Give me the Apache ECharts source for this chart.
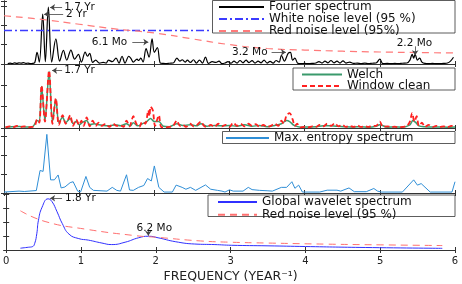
<!DOCTYPE html>
<html><head><meta charset="utf-8">
<script src="https://cdn.jsdelivr.net/npm/echarts@6/dist/echarts.min.js"></script>
<style>html,body{margin:0;padding:0;background:#fff}#c{width:462px;height:284px}</style>
</head><body><div id="c"></div>
<script>
const freqTicks = [0,1,2,3,4,5,6];
const panelMax = [3.25, 3, 3.46, 4.1];

const fourier = [[0.05,0.02],[0.08,0.05],[0.11,0.02],[0.14,0.06],[0.17,0.03],[0.2,0.06],[0.23,0.04],[0.26,0.07],[0.29,0.03],[0.32,0.05],[0.35,0.02],[0.38,0.03],[0.41,0.08],[0.44,0.6],[0.47,0.1],[0.515,2.57],[0.55,0.12],[0.59,2.94],[0.635,0.1],[0.69,1.3],[0.74,0.15],[0.79,0.7],[0.835,0.2],[0.89,0.72],[0.94,0.25],[0.99,0.5],[1.03,0.1],[1.08,0.62],[1.11,0.4],[1.14,0.55],[1.18,0.08],[1.22,0.2],[1.27,0.05],[1.32,0.08],[1.36,0.05],[1.39,0.2],[1.44,0.12],[1.49,0.3],[1.53,0.05],[1.57,0.4],[1.61,0.05],[1.66,0.4],[1.69,0.28],[1.72,0.1],[1.77,0.25],[1.79,0.18],[1.82,0.3],[1.85,0.1],[1.89,0.8],[1.93,0.35],[1.97,1.3],[2.0,0.6],[2.04,0.85],[2.08,0.05],[2.12,0.03],[2.16,0.02],[2.2,0.04],[2.25,0.05],[2.3,0.3],[2.34,0.15],[2.37,0.22],[2.41,0.1],[2.44,0.2],[2.48,0.08],[2.52,0.22],[2.56,0.05],[2.6,0.2],[2.64,0.05],[2.68,0.35],[2.72,0.03],[2.77,0.12],[2.82,0.08],[2.86,0.15],[2.9,0.02],[2.94,0.05],[2.98,0.12],[3.02,0.04],[3.06,0.15],[3.1,0.05],[3.14,0.18],[3.18,0.06],[3.22,0.2],[3.26,0.07],[3.3,0.17],[3.34,0.05],[3.38,0.15],[3.42,0.06],[3.46,0.2],[3.5,0.05],[3.54,0.14],[3.58,0.04],[3.62,0.18],[3.66,0.1],[3.69,0.45],[3.73,0.15],[3.78,0.55],[3.81,0.6],[3.84,0.2],[3.87,0.3],[3.91,0.03],[3.95,0.02],[4.0,0.03],[4.05,0.02],[4.1,0.03],[4.15,0.05],[4.19,0.12],[4.23,0.05],[4.27,0.15],[4.31,0.06],[4.35,0.18],[4.39,0.06],[4.43,0.15],[4.47,0.05],[4.51,0.16],[4.55,0.05],[4.6,0.1],[4.65,0.03],[4.7,0.05],[4.75,0.02],[4.8,0.04],[4.85,0.02],[4.9,0.04],[4.95,0.05],[5.0,0.25],[5.04,0.02],[5.1,0.03],[5.15,0.02],[5.2,0.03],[5.25,0.02],[5.3,0.04],[5.36,0.05],[5.4,0.2],[5.43,0.5],[5.45,0.3],[5.47,0.5],[5.5,0.2],[5.53,0.3],[5.56,0.1],[5.6,0.03],[5.65,0.02],[5.7,0.03],[5.75,0.02],[5.8,0.02],[5.85,0.03],[5.9,0.05],[5.94,0.15],[5.98,0.35]];
const whiteNoise = [[0,1.73],[6,1.73]];
const redNoise1 = [[0,2.49],[0.5,2.3],[1,2.05],[1.5,1.8],[2,1.6],[2.5,1.3],[3,1.0],[3.5,0.8],[4,0.72],[4.5,0.66],[5,0.62],[5.5,0.59],[6,0.57]];

const welch = [[0.02,0.04],[0.1,0.06],[0.2,0.07],[0.3,0.05],[0.38,0.06],[0.44,0.35],[0.47,0.3],[0.5,1.95],[0.545,0.35],[0.6,2.65],[0.645,0.3],[0.69,1.35],[0.73,0.25],[0.78,0.5],[0.82,0.25],[0.88,0.45],[0.92,0.2],[0.96,0.3],[1.0,0.15],[1.04,0.25],[1.1,0.35],[1.14,0.15],[1.2,0.2],[1.26,0.15],[1.32,0.12],[1.4,0.1],[1.48,0.15],[1.55,0.1],[1.63,0.2],[1.68,0.1],[1.72,0.25],[1.78,0.1],[1.84,0.2],[1.9,0.3],[1.95,0.45],[2.0,0.3],[2.06,0.3],[2.12,0.08],[2.2,0.06],[2.3,0.2],[2.38,0.12],[2.48,0.15],[2.56,0.1],[2.62,0.2],[2.7,0.08],[2.8,0.12],[2.9,0.1],[3.0,0.12],[3.1,0.08],[3.2,0.15],[3.3,0.08],[3.4,0.12],[3.5,0.06],[3.6,0.12],[3.69,0.2],[3.76,0.35],[3.8,0.3],[3.86,0.12],[3.95,0.04],[4.05,0.05],[4.15,0.06],[4.25,0.1],[4.35,0.1],[4.45,0.08],[4.55,0.06],[4.65,0.05],[4.75,0.06],[4.85,0.04],[4.95,0.08],[5.0,0.15],[5.1,0.04],[5.2,0.05],[5.3,0.04],[5.4,0.15],[5.44,0.35],[5.48,0.25],[5.52,0.1],[5.6,0.06],[5.7,0.05],[5.8,0.05],[5.9,0.04],[6.0,0.05]];
const windowClean = [[0.02,0.03],[0.08,0.08],[0.12,0.03],[0.17,0.1],[0.22,0.04],[0.27,0.08],[0.32,0.03],[0.37,0.05],[0.41,0.1],[0.44,0.4],[0.47,0.25],[0.5,2.0],[0.545,0.3],[0.6,2.69],[0.645,0.2],[0.69,1.39],[0.73,0.15],[0.78,0.6],[0.82,0.2],[0.86,0.45],[0.88,0.6],[0.92,0.1],[0.96,0.4],[1.0,0.15],[1.03,0.35],[1.06,0.1],[1.1,0.5],[1.14,0.08],[1.18,0.35],[1.22,0.1],[1.26,0.25],[1.3,0.1],[1.35,0.2],[1.4,0.05],[1.45,0.2],[1.5,0.1],[1.55,0.12],[1.59,0.05],[1.63,0.35],[1.67,0.08],[1.72,0.55],[1.76,0.2],[1.8,0.05],[1.84,0.3],[1.88,0.2],[1.92,0.83],[1.935,0.55],[1.95,1.0],[1.98,0.83],[2.01,0.1],[2.06,0.6],[2.09,0.05],[2.14,0.03],[2.2,0.05],[2.25,0.1],[2.3,0.35],[2.34,0.1],[2.38,0.15],[2.42,0.05],[2.48,0.2],[2.52,0.08],[2.56,0.12],[2.62,0.3],[2.66,0.1],[2.7,0.05],[2.75,0.15],[2.8,0.05],[2.85,0.2],[2.9,0.08],[2.95,0.15],[3.0,0.05],[3.05,0.25],[3.1,0.1],[3.15,0.2],[3.2,0.08],[3.25,0.2],[3.3,0.1],[3.35,0.18],[3.4,0.05],[3.45,0.15],[3.5,0.05],[3.55,0.1],[3.6,0.2],[3.65,0.1],[3.69,0.35],[3.72,0.2],[3.76,0.6],[3.8,0.7],[3.84,0.4],[3.87,0.1],[3.9,0.2],[3.94,0.03],[4.0,0.05],[4.05,0.03],[4.1,0.08],[4.15,0.05],[4.2,0.15],[4.25,0.08],[4.3,0.2],[4.35,0.1],[4.4,0.22],[4.45,0.08],[4.5,0.15],[4.55,0.05],[4.6,0.1],[4.65,0.05],[4.7,0.12],[4.75,0.05],[4.8,0.08],[4.85,0.05],[4.9,0.1],[4.95,0.1],[5.0,0.3],[5.04,0.05],[5.1,0.08],[5.15,0.04],[5.2,0.06],[5.25,0.03],[5.3,0.05],[5.36,0.1],[5.4,0.3],[5.43,0.7],[5.46,0.3],[5.49,0.55],[5.52,0.1],[5.56,0.25],[5.6,0.05],[5.65,0.15],[5.7,0.04],[5.75,0.1],[5.8,0.05],[5.85,0.08],[5.9,0.04],[5.95,0.1],[6.0,0.05]];

const maxEntropy = [[0.0,0.05],[0.2,0.1],[0.27,0.08],[0.43,0.13],[0.48,1.2],[0.52,1.15],[0.57,3.12],[0.62,0.7],[0.67,0.7],[0.72,0.96],[0.76,0.27],[0.81,0.32],[0.88,0.55],[0.92,0.6],[0.98,0.1],[1.02,0.06],[1.09,0.88],[1.14,0.3],[1.19,0.14],[1.37,0.1],[1.44,0.3],[1.5,0.14],[1.55,0.1],[1.63,0.97],[1.67,0.16],[1.72,0.14],[1.79,0.3],[1.86,0.4],[1.91,0.77],[1.96,0.64],[2.0,1.44],[2.06,0.3],[2.13,0.05],[2.24,0.05],[2.29,0.42],[2.37,0.3],[2.42,0.2],[2.48,0.3],[2.55,0.14],[2.68,0.43],[2.75,0.2],[2.84,0.14],[2.9,0.1],[2.94,0.05],[3.0,0.17],[3.05,0.1],[3.18,0.1],[3.25,0.3],[3.3,0.18],[3.4,0.14],[3.5,0.12],[3.57,0.1],[3.69,0.3],[3.76,0.3],[3.83,0.6],[3.87,0.25],[3.92,0.42],[3.97,0.05],[4.2,0.05],[4.3,0.15],[4.43,0.15],[4.48,0.1],[4.59,0.27],[4.66,0.07],[4.82,0.07],[4.92,0.24],[4.97,0.1],[5.02,0.05],[5.3,0.05],[5.45,0.7],[5.5,0.42],[5.55,0.5],[5.67,0.05],[5.96,0.05],[6.0,0.6]];

const wavelet = [[0.19,0.13],[0.3,0.2],[0.35,0.24],[0.38,0.45],[0.41,1.2],[0.43,2.1],[0.48,3.08],[0.56,3.68],[0.61,3.5],[0.68,2.75],[0.75,1.9],[0.84,1.14],[0.97,0.82],[1.1,0.71],[1.28,0.5],[1.41,0.39],[1.59,0.56],[1.77,0.88],[1.9,0.99],[2.03,0.88],[2.26,0.6],[2.52,0.43],[2.79,0.39],[3.01,0.34],[3.5,0.3],[4.0,0.25],[4.8,0.18],[5.83,0.12]];
const redNoise4 = [[0.19,2.82],[0.52,2.05],[1.06,1.5],[1.73,1.03],[2.0,0.92],[2.6,0.65],[3.0,0.56],[3.5,0.5],[4.3,0.42],[5.0,0.37],[5.83,0.32]];

const fourierNotes = [['1.7 Yr',0.787,2.92,'right'],['2 Yr',0.813,2.57,'right'],['6.1 Mo',1.653,1.13,'left'],['3.2 Mo',3.52,0.6,'left'],['2.2 Mo',5.46,1.08,'inside']];
const fourierPointers = [[0.613,2.92,0.773,2.92,0],[0.533,2.57,0.787,2.57,0],[1.707,1.13,1.92,1.13,1],[3.56,0.6,3.75,0.6,1],[5.47,0.91,5.47,0.45,1]];
const welchNotes = [['1.7 Yr',0.787,2.69,'right']];
const welchPointers = [[0.64,2.69,0.773,2.69,0]];
const waveletNotes = [['1.8 Yr',0.773,3.72,'right'],['6.2 Mo',1.98,1.57,'inside']];
const waveletPointers = [[0.587,3.72,0.747,3.72,0],[1.9,1.42,1.9,1.03,1]];

const FONT = 'DejaVu Sans';
function notes(list, ptrs){
  return {
    markPoint:{symbol:'circle',symbolSize:0,silent:true,animation:false,
      label:{show:true,formatter:'{b}',fontFamily:FONT,fontSize:10.5,color:'#111',distance:1},
      data:list.map(n=>({name:n[0],coord:[n[1],n[2]],label:{position:n[3]}}))},
    markLine:{silent:true,animation:false,symbolSize:5,label:{show:false},
      lineStyle:{color:'#444',width:0.8,type:'solid'},
      data:ptrs.map(p=>[{coord:[p[0],p[1]],symbol:p[4]===0?'arrow':'none'},{coord:[p[2],p[3]],symbol:p[4]===1?'arrow':'none'}])}
  };
}

const tops=[1,64,128,193], heights=[63,64,65,63];
const grid = tops.map((t,i)=>({left:4,right:7,top:t,height:heights[i]}));
const axLine={show:true,lineStyle:{color:'#333',width:1}};
const axTick={show:true,inside:true,length:3,lineStyle:{color:'#333',width:1}};
const xAxis=[], yAxis=[];
for(let i=0;i<4;i++){
  xAxis.push({gridIndex:i,type:'value',position:'bottom',min:freqTicks[0],max:freqTicks[freqTicks.length-1],interval:1,
    axisLine:axLine,axisTick:axTick,splitLine:{show:false},
    axisLabel:{show:i===3,margin:6,fontFamily:FONT,fontSize:10,color:'#222',formatter:v=>String(freqTicks[freqTicks.indexOf(v)] ?? '')},
    name:i===3?'FREQUENCY (YEAR⁻¹)':'',nameLocation:'middle',nameGap:20,
    nameTextStyle:{fontFamily:FONT,fontSize:12.5,color:'#222'}});
  xAxis.push({gridIndex:i,type:'value',position:'top',min:0,max:6,interval:1,
    axisLine:axLine,axisTick:axTick,splitLine:{show:false},axisLabel:{show:false}});
  yAxis.push({gridIndex:i,type:'value',position:'left',min:0,max:panelMax[i],interval:1,
    axisLine:axLine,axisTick:axTick,splitLine:{show:false},axisLabel:{show:false}});
  yAxis.push({gridIndex:i,type:'value',position:'right',min:0,max:panelMax[i],interval:1,
    axisLine:axLine,axisTick:axTick,splitLine:{show:false},axisLabel:{show:false}});
}
function ln(name,data,i,color,width,type,smooth,extra){
  return Object.assign({name,type:'line',data,xAxisIndex:2*i,yAxisIndex:2*i,symbol:'none',symbolSize:0,showSymbol:false,
    smooth:smooth,animation:false,lineStyle:{color,width,type},itemStyle:{color},z:3},extra||{});
}
const series=[
  ln('Fourier spectrum',fourier,0,'#000',1.2,'solid',0.35,notes(fourierNotes,fourierPointers)),
  ln('White noise level (95 %)',whiteNoise,0,'#3b3bff',1.4,[8,3,2,3],false),
  ln('Red noise level (95%)',redNoise1,0,'#ff7a7a',1.2,[7,5],true),
  ln('Welch',welch,1,'#3a9a6c',1.5,'solid',0.3),
  ln('Window clean',windowClean,1,'#ff2020',1.8,[5,3],0.3,notes(welchNotes,welchPointers)),
  ln('Max. entropy spectrum',maxEntropy,2,'#2f8ed6',1,'solid',false),
  ln('Global wavelet spectrum',wavelet,3,'#3030ff',1,'solid',0.5,notes(waveletNotes,waveletPointers)),
  ln('Red noise level (95 %)',redNoise4,3,'#ff7070',1,[7,5],true)
];
function lg(names,left,top,w,gap){
  return {data:names,orient:'vertical',left,top,itemWidth:w,itemHeight:9,itemGap:gap,padding:0,z:60,
    selectedMode:false,itemStyle:{opacity:0,borderWidth:0},
    textStyle:{fontFamily:FONT,fontSize:12,color:'#111',lineHeight:10}};
}
const legend=[
  lg(['Fourier spectrum','White noise level (95 %)','Red noise level (95%)'],218,1,45,0),
  lg(['Welch','Window clean'],301,68.5,40,-0.5),
  lg(['Max. entropy spectrum'],225,132,43,0),
  lg(['Global wavelet spectrum','Red noise level (95 %)'],217,196,39,0.7)
];
const boxStyle={fill:'#fff',stroke:'#333',lineWidth:0.8};
const graphic=[
  {type:'rect',z:50,shape:{x:212.5,y:0.5,width:242.5,height:32.5},style:boxStyle},
  {type:'rect',z:50,shape:{x:293,y:68,width:162,height:22},style:boxStyle},
  {type:'rect',z:50,shape:{x:222.5,y:131.5,width:232.5,height:12},style:boxStyle},
  {type:'rect',z:50,shape:{x:208,y:195,width:247,height:21.5},style:boxStyle}
];
const chart=echarts.init(document.getElementById('c'),null,{renderer:'canvas'});
chart.setOption({animation:false,backgroundColor:'#fff',grid,xAxis,yAxis,series,legend,graphic});
</script></body></html>
